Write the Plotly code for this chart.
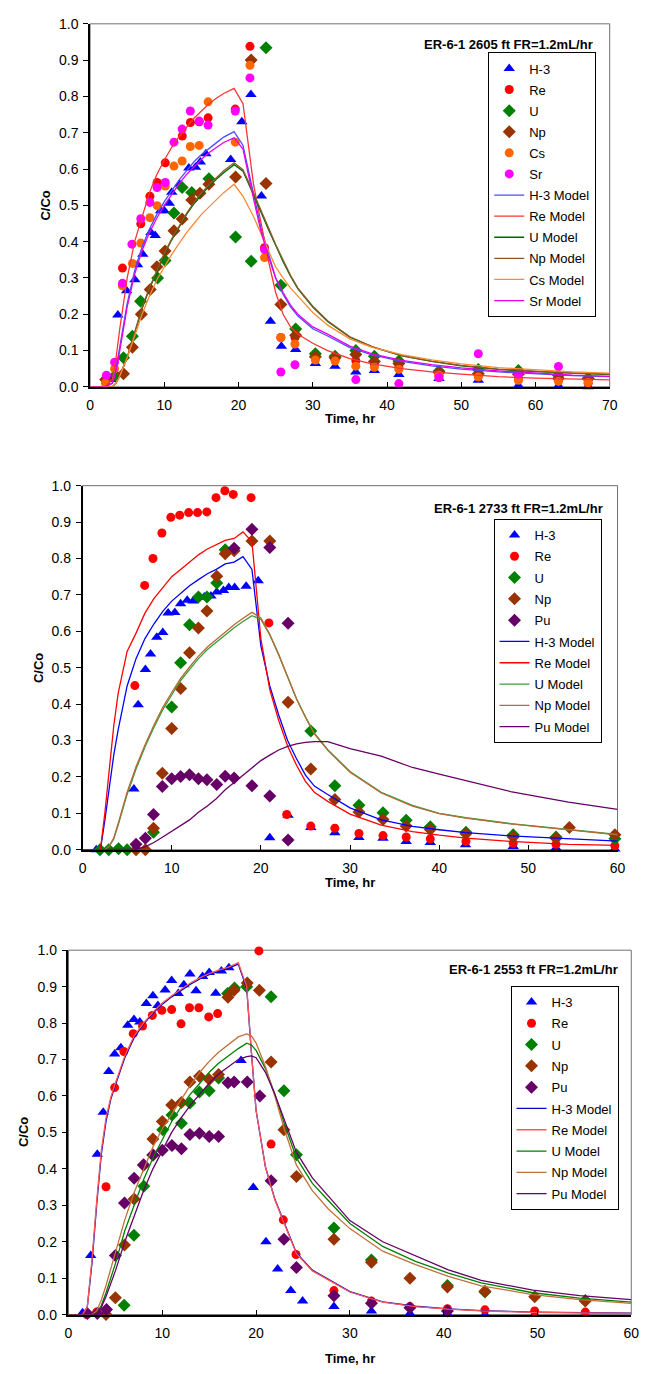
import plotly.graph_objects as go

# ---------------- Chart 1: ER-6-1 2605 ft ----------------
h3_t1 = [2.8, 3.74, 4.93, 6.04, 6.4, 7.1, 8.2, 8.77, 9.5, 10.0, 10.66, 11.0, 12.07, 13.3, 14.2, 14.85, 15.6, 18.94, 20.44, 21.67, 23.08, 24.3, 25.77, 27.7, 30.35, 33.0, 35.8, 38.3, 41.6, 47.0, 52.3, 57.7, 63.1, 67.1]
h3_v1 = [0.02, 0.198, 0.265, 0.295, 0.336, 0.365, 0.425, 0.417, 0.485, 0.485, 0.506, 0.536, 0.558, 0.603, 0.605, 0.619, 0.642, 0.626, 0.730, 0.805, 0.526, 0.181, 0.112, 0.103, 0.064, 0.057, 0.041, 0.045, 0.034, 0.023, 0.018, 0.004, 0.003, 0.0]
re_t1 = [2.07, 4.36, 6.83, 8.06, 9.03, 10.13, 12.42, 13.52, 14.7, 15.9, 19.56, 21.54, 23.5, 25.7, 27.6, 30.35, 33.0, 35.8, 38.3, 41.6, 47.0, 52.3, 57.7, 63.1, 67.1]
re_v1 = [0.02, 0.327, 0.449, 0.525, 0.563, 0.617, 0.691, 0.728, 0.73, 0.741, 0.765, 0.938, 0.383, 0.136, 0.136, 0.08, 0.075, 0.072, 0.063, 0.054, 0.03, 0.03, 0.02, 0.02, 0.01]
u_t1 = [3.4, 4.5, 5.7, 6.8, 9.1, 10.1, 11.3, 12.4, 13.7, 16.0, 19.6, 21.7, 23.7, 25.7, 27.7, 30.35, 33.0, 35.8, 38.3, 41.6, 47.0, 52.3, 57.7, 63.1, 67.1]
u_v1 = [0.032, 0.08, 0.139, 0.236, 0.30, 0.348, 0.479, 0.549, 0.535, 0.573, 0.413, 0.346, 0.934, 0.28, 0.159, 0.091, 0.084, 0.10, 0.084, 0.071, 0.043, 0.048, 0.045, 0.032, 0.023]
np_t1 = [2.1, 4.5, 5.7, 6.9, 8.1, 9.0, 10.1, 11.3, 12.4, 13.7, 14.8, 16.0, 19.6, 21.7, 23.7, 25.7, 27.7, 30.35, 33.0, 35.8, 38.3, 41.6, 47.0, 52.3, 57.7, 63.1, 67.1]
np_v1 = [0.02, 0.036, 0.109, 0.20, 0.268, 0.331, 0.374, 0.43, 0.462, 0.515, 0.533, 0.558, 0.578, 0.90, 0.56, 0.227, 0.142, 0.083, 0.08, 0.089, 0.07, 0.064, 0.04, 0.036, 0.035, 0.023, 0.023]
cs_t1 = [2.07, 3.3, 4.36, 5.7, 6.83, 8.06, 9.03, 10.13, 11.3, 12.4, 13.5, 14.7, 15.9, 19.56, 21.54, 23.5, 25.7, 27.6, 30.35, 33.0, 35.8, 38.3, 41.6, 47.0, 52.3, 57.7, 63.1, 67.1]
cs_v1 = [0.01, 0.05, 0.278, 0.34, 0.396, 0.466, 0.499, 0.553, 0.608, 0.622, 0.662, 0.665, 0.785, 0.674, 0.886, 0.356, 0.136, 0.118, 0.074, 0.071, 0.057, 0.054, 0.048, 0.032, 0.027, 0.018, 0.015, 0.012]
sr_t1 = [2.2, 3.3, 4.36, 5.64, 6.83, 8.06, 9.03, 10.13, 11.3, 12.4, 13.5, 14.7, 15.9, 19.56, 21.54, 23.5, 25.7, 27.6, 35.8, 41.6, 47.0, 52.3, 57.7, 63.1]
sr_v1 = [0.032, 0.068, 0.285, 0.393, 0.463, 0.508, 0.549, 0.563, 0.674, 0.71, 0.76, 0.732, 0.721, 0.76, 0.851, 0.378, 0.041, 0.061, 0.02, 0.009, 0.025, 0.091, 0.035, 0.056]

tm1 = [0, 2, 3, 3.5, 4, 5, 6, 7, 8, 9, 10, 11, 12, 13, 14, 15, 16, 17, 18, 19.4, 20.6, 22, 23, 24, 25, 26, 27, 28, 30, 32, 35, 38, 42, 46, 50, 55, 60, 65, 70]
h3_m1 = [0, 0, 0.01, 0.05, 0.11, 0.23, 0.32, 0.385, 0.435, 0.475, 0.51, 0.54, 0.57, 0.595, 0.62, 0.64, 0.655, 0.672, 0.688, 0.703, 0.665, 0.53, 0.44, 0.37, 0.30, 0.255, 0.22, 0.195, 0.16, 0.14, 0.108, 0.088, 0.07, 0.058, 0.049, 0.041, 0.035, 0.031, 0.028]
re_m1 = [0, 0, 0.02, 0.08, 0.16, 0.30, 0.40, 0.47, 0.535, 0.585, 0.625, 0.66, 0.69, 0.715, 0.74, 0.76, 0.78, 0.795, 0.808, 0.822, 0.78, 0.56, 0.45, 0.35, 0.26, 0.20, 0.165, 0.145, 0.12, 0.10, 0.078, 0.063, 0.05, 0.041, 0.035, 0.028, 0.024, 0.021, 0.019]
u_m1 = [0, 0, 0, 0.01, 0.03, 0.08, 0.15, 0.215, 0.27, 0.32, 0.365, 0.405, 0.44, 0.475, 0.505, 0.53, 0.552, 0.572, 0.59, 0.612, 0.594, 0.53, 0.48, 0.435, 0.39, 0.345, 0.305, 0.27, 0.22, 0.18, 0.137, 0.11, 0.085, 0.07, 0.058, 0.048, 0.042, 0.037, 0.034]
np_m1 = [0, 0, 0, 0.01, 0.032, 0.082, 0.152, 0.218, 0.273, 0.323, 0.368, 0.408, 0.443, 0.478, 0.508, 0.534, 0.556, 0.576, 0.595, 0.617, 0.598, 0.535, 0.485, 0.44, 0.392, 0.347, 0.307, 0.272, 0.222, 0.182, 0.138, 0.111, 0.086, 0.071, 0.059, 0.049, 0.043, 0.038, 0.035]
cs_m1 = [0, 0, 0, 0.01, 0.03, 0.08, 0.14, 0.20, 0.25, 0.295, 0.33, 0.365, 0.395, 0.425, 0.45, 0.475, 0.495, 0.515, 0.535, 0.558, 0.525, 0.47, 0.425, 0.375, 0.33, 0.30, 0.272, 0.25, 0.205, 0.17, 0.132, 0.109, 0.089, 0.074, 0.063, 0.053, 0.046, 0.041, 0.038]
sr_m1 = [0, 0, 0.01, 0.045, 0.10, 0.22, 0.31, 0.375, 0.425, 0.465, 0.50, 0.53, 0.56, 0.585, 0.607, 0.627, 0.645, 0.66, 0.673, 0.686, 0.655, 0.52, 0.43, 0.36, 0.30, 0.26, 0.225, 0.20, 0.165, 0.145, 0.112, 0.091, 0.073, 0.061, 0.052, 0.044, 0.037, 0.032, 0.029]

# ---------------- Chart 2: ER-6-1 2733 ft ----------------
h3_t2 = [1.54, 5.76, 6.24, 7.05, 7.63, 8.33, 9.0, 9.6, 10.35, 11.0, 11.74, 12.4, 12.95, 13.65, 14.4, 15.05, 15.8, 16.4, 17.06, 18.35, 19.7, 21.0, 23.05, 25.6, 28.3, 31.0, 33.7, 36.3, 39.0, 42.95, 48.3, 53.1, 59.7]
h3_v2 = [0.0, 0.167, 0.398, 0.495, 0.538, 0.584, 0.597, 0.65, 0.652, 0.676, 0.685, 0.683, 0.694, 0.694, 0.697, 0.708, 0.712, 0.72, 0.72, 0.724, 0.739, 0.033, 0.095, 0.061, 0.047, 0.034, 0.032, 0.023, 0.02, 0.014, 0.009, 0.005, 0.002]
re_t2 = [5.87, 6.97, 7.9, 8.9, 9.9, 10.9, 11.9, 12.9, 13.94, 14.97, 15.96, 16.9, 18.9, 20.9, 22.9, 25.6, 28.3, 31.0, 33.7, 36.3, 39.0, 43.0, 48.3, 53.1, 59.7]
re_v2 = [0.451, 0.726, 0.80, 0.87, 0.913, 0.919, 0.926, 0.926, 0.928, 0.967, 0.986, 0.976, 0.967, 0.623, 0.097, 0.065, 0.059, 0.045, 0.039, 0.035, 0.03, 0.023, 0.018, 0.015, 0.011]
u_t2 = [1.95, 2.94, 4.04, 5.0, 7.96, 10.0, 11.0, 12.0, 13.0, 13.95, 15.05, 16.0, 25.6, 28.3, 31.0, 33.7, 36.3, 39.0, 43.0, 48.3, 53.1, 59.7]
u_v2 = [0.0, 0.0, 0.003, 0.0, 0.048, 0.392, 0.514, 0.618, 0.694, 0.694, 0.733, 0.824, 0.326, 0.176, 0.122, 0.102, 0.081, 0.063, 0.048, 0.041, 0.035, 0.03]
np_t2 = [6.0, 7.05, 7.96, 8.95, 10.0, 11.0, 12.0, 13.0, 13.95, 15.05, 16.0, 17.0, 19.0, 21.0, 23.05, 25.6, 28.3, 31.0, 33.7, 36.3, 39.0, 43.0, 48.3, 53.1, 54.6, 59.7]
np_v2 = [0.0, 0.0, 0.059, 0.21, 0.333, 0.443, 0.541, 0.609, 0.656, 0.751, 0.813, 0.821, 0.848, 0.848, 0.405, 0.222, 0.138, 0.104, 0.083, 0.065, 0.056, 0.044, 0.035, 0.032, 0.061, 0.041]
pu_t2 = [6.0, 7.05, 7.96, 8.95, 10.0, 11.0, 12.0, 13.0, 13.95, 15.05, 16.0, 17.0, 17.0, 19.0, 19.0, 21.0, 21.0, 23.05, 23.05]
pu_v2 = [0.015, 0.032, 0.097, 0.174, 0.195, 0.201, 0.206, 0.195, 0.192, 0.179, 0.202, 0.197, 0.828, 0.176, 0.88, 0.148, 0.83, 0.027, 0.622]

tm2 = [0, 2, 2.5, 3, 3.5, 4, 5, 6, 7, 8, 9, 10, 11, 12, 13, 14, 15, 16, 17, 18, 19, 20, 21, 22, 23, 24, 25, 26, 27.5, 30, 33.5, 37, 40, 43, 48, 54.5, 60]
h3_m2 = [0, 0, 0.08, 0.17, 0.26, 0.33, 0.45, 0.525, 0.58, 0.62, 0.655, 0.683, 0.705, 0.725, 0.742, 0.758, 0.77, 0.785, 0.79, 0.805, 0.77, 0.56, 0.45, 0.37, 0.30, 0.25, 0.205, 0.175, 0.152, 0.115, 0.082, 0.064, 0.055, 0.047, 0.038, 0.03, 0.024]
re_m2 = [0, 0, 0.10, 0.22, 0.34, 0.43, 0.545, 0.595, 0.65, 0.69, 0.72, 0.75, 0.77, 0.79, 0.81, 0.826, 0.838, 0.85, 0.855, 0.873, 0.846, 0.58, 0.44, 0.355, 0.285, 0.232, 0.188, 0.158, 0.133, 0.098, 0.068, 0.05, 0.04, 0.032, 0.023, 0.015, 0.012]
u_m2 = [0, 0, 0, 0.01, 0.03, 0.068, 0.152, 0.222, 0.282, 0.336, 0.385, 0.425, 0.465, 0.495, 0.525, 0.55, 0.57, 0.59, 0.61, 0.627, 0.643, 0.633, 0.59, 0.535, 0.475, 0.415, 0.365, 0.32, 0.275, 0.215, 0.158, 0.122, 0.1, 0.088, 0.072, 0.056, 0.042]
np_m2 = [0, 0, 0, 0.01, 0.032, 0.072, 0.158, 0.228, 0.288, 0.342, 0.391, 0.432, 0.471, 0.502, 0.532, 0.557, 0.578, 0.598, 0.618, 0.636, 0.652, 0.637, 0.592, 0.537, 0.476, 0.414, 0.364, 0.318, 0.273, 0.213, 0.156, 0.12, 0.099, 0.087, 0.071, 0.055, 0.041]
pu_m2 = [0, 0, 0, 0, 0, 0, 0, 0.002, 0.008, 0.02, 0.035, 0.05, 0.065, 0.082, 0.103, 0.12, 0.14, 0.165, 0.185, 0.205, 0.225, 0.245, 0.26, 0.274, 0.284, 0.291, 0.295, 0.297, 0.297, 0.278, 0.257, 0.226, 0.208, 0.19, 0.16, 0.131, 0.111]

# ---------------- Chart 3: ER-6-1 2553 ft ----------------
h3_t3 = [1.5, 2.37, 3.07, 3.7, 4.29, 4.92, 5.58, 6.32, 6.98, 7.6, 8.3, 9.0, 9.53, 10.3, 11.0, 11.7, 12.3, 12.95, 13.6, 14.3, 15.0, 15.7, 16.3, 17.1, 18.4, 19.7, 21.05, 22.3, 23.7, 24.96, 28.3, 32.3, 36.4, 40.4, 44.4, 49.7, 55.1]
h3_v3 = [0.005, 0.162, 0.44, 0.555, 0.667, 0.715, 0.732, 0.794, 0.81, 0.803, 0.854, 0.875, 0.848, 0.891, 0.917, 0.881, 0.905, 0.935, 0.889, 0.928, 0.939, 0.882, 0.943, 0.952, 0.697, 0.349, 0.2, 0.125, 0.066, 0.037, 0.022, 0.01, 0.003, 0.003, 0.0, 0.0, 0.0]
re_t3 = [1.95, 3.0, 4.0, 4.92, 5.9, 6.9, 7.9, 8.94, 9.95, 11.0, 12.0, 12.9, 13.9, 14.95, 15.9, 20.3, 21.6, 22.9, 24.26, 28.3, 32.3, 36.4, 40.4, 44.4, 49.7, 55.1]
re_v3 = [0.0, 0.007, 0.351, 0.623, 0.722, 0.771, 0.792, 0.821, 0.835, 0.837, 0.798, 0.842, 0.842, 0.817, 0.826, 0.998, 0.468, 0.26, 0.165, 0.066, 0.037, 0.022, 0.016, 0.013, 0.01, 0.007]
u_t3 = [5.93, 6.98, 8.03, 9.0, 10.05, 11.03, 12.04, 12.95, 13.96, 15.0, 16.0, 16.96, 17.7, 19.0, 21.6, 22.97, 24.3, 28.3, 32.3, 40.4, 44.4, 55.1]
u_v3 = [0.026, 0.218, 0.352, 0.437, 0.507, 0.548, 0.525, 0.581, 0.611, 0.614, 0.649, 0.881, 0.896, 0.90, 0.872, 0.614, 0.439, 0.238, 0.15, 0.08, 0.062, 0.039]
np_t3 = [4.0, 5.0, 5.97, 7.0, 8.0, 9.0, 10.0, 11.0, 12.04, 12.95, 13.96, 15.0, 16.0, 17.0, 17.66, 19.06, 20.35, 21.6, 22.97, 24.3, 28.3, 32.3, 36.4, 40.4, 44.4, 49.7, 55.1]
np_v3 = [0.0, 0.046, 0.191, 0.317, 0.41, 0.482, 0.53, 0.575, 0.582, 0.638, 0.654, 0.645, 0.659, 0.871, 0.89, 0.91, 0.89, 0.693, 0.507, 0.379, 0.207, 0.144, 0.10, 0.076, 0.064, 0.049, 0.037]
pu_t3 = [2.0, 3.07, 4.05, 5.0, 5.97, 7.0, 8.0, 9.0, 10.0, 11.03, 12.04, 12.95, 13.96, 15.0, 16.0, 17.0, 17.66, 19.06, 20.4, 21.6, 22.97, 24.3, 28.3, 32.3, 36.4, 40.4]
pu_v3 = [0.003, 0.003, 0.014, 0.162, 0.306, 0.374, 0.411, 0.439, 0.451, 0.464, 0.455, 0.494, 0.498, 0.489, 0.489, 0.636, 0.638, 0.638, 0.60, 0.367, 0.207, 0.129, 0.052, 0.031, 0.019, 0.01]

tm3 = [0, 1.5, 2, 2.5, 3, 3.5, 4, 4.5, 5, 6, 7, 8, 9, 10, 11, 12, 13, 14, 15, 16, 17, 18.1, 19, 19.5, 20, 21, 22, 23, 24.3, 26, 27.7, 30, 33.5, 37, 40.5, 44, 49.5, 54.5, 60]
h3_m3 = [0, 0, 0.02, 0.14, 0.30, 0.44, 0.53, 0.59, 0.63, 0.705, 0.76, 0.797, 0.827, 0.852, 0.872, 0.89, 0.907, 0.921, 0.933, 0.942, 0.95, 0.962, 0.895, 0.72, 0.56, 0.405, 0.317, 0.252, 0.169, 0.122, 0.096, 0.063, 0.035, 0.023, 0.016, 0.011, 0.007, 0.005, 0.004]
re_m3 = [0, 0, 0.02, 0.15, 0.31, 0.45, 0.54, 0.595, 0.635, 0.71, 0.765, 0.80, 0.83, 0.855, 0.875, 0.893, 0.91, 0.924, 0.936, 0.945, 0.953, 0.966, 0.90, 0.72, 0.56, 0.405, 0.315, 0.25, 0.167, 0.12, 0.095, 0.062, 0.034, 0.022, 0.015, 0.01, 0.006, 0.004, 0.003]
u_m3 = [0, 0, 0, 0, 0.005, 0.025, 0.06, 0.10, 0.14, 0.23, 0.30, 0.37, 0.43, 0.48, 0.53, 0.57, 0.605, 0.635, 0.665, 0.69, 0.71, 0.73, 0.745, 0.74, 0.725, 0.675, 0.605, 0.525, 0.43, 0.36, 0.313, 0.25, 0.187, 0.146, 0.114, 0.087, 0.06, 0.045, 0.034]
np_m3 = [0, 0, 0, 0, 0.01, 0.04, 0.08, 0.125, 0.17, 0.26, 0.335, 0.40, 0.46, 0.51, 0.55, 0.59, 0.63, 0.665, 0.695, 0.72, 0.74, 0.762, 0.77, 0.765, 0.745, 0.68, 0.60, 0.51, 0.41, 0.34, 0.29, 0.236, 0.174, 0.137, 0.105, 0.079, 0.055, 0.041, 0.031]
pu_m3 = [0, 0, 0, 0, 0.003, 0.02, 0.05, 0.085, 0.12, 0.20, 0.27, 0.34, 0.40, 0.45, 0.50, 0.54, 0.575, 0.605, 0.635, 0.66, 0.68, 0.70, 0.708, 0.71, 0.705, 0.665, 0.605, 0.535, 0.445, 0.375, 0.326, 0.258, 0.2, 0.161, 0.123, 0.094, 0.067, 0.052, 0.041]

titles = ["ER-6-1 2605 ft FR=1.2mL/hr", "ER-6-1 2733 ft FR=1.2mL/hr", "ER-6-1 2553 ft FR=1.2mL/hr"]

W, H = 654, 1374
FONT = "Liberation Sans, Arial, sans-serif"

def px(x):
    return x / W

def py(y):
    return 1 - y / H

fig = go.Figure()

# plot area boxes in pixels: left, right, top, bottom
boxes = [(87.7, 617.0, 16.0, 383.3), (80.0, 625.0, 483.3, 851.7), (65.7, 639.0, 953.3, 1322.0)]
xmax = [70, 60, 60]
legend_pos = [(603.3, 45.0), (608.7, 517.0), (626.0, 989.5)]
title_pos = [(601.7, 37.0), (612.7, 506.0), (627.3, 973.3)]
ylab_x = [42, 35, 20]
xlab_y = [415, 885, 1366]
item_gap = [1.2, 1.4, 1.4]

sym = {"H-3": "triangle-up", "Re": "circle", "U": "diamond", "Np": "diamond", "Cs": "circle", "Sr": "circle", "Pu": "diamond"}
mcol = {"H-3": "#0000FF", "Re": "#FF0000", "U": "#008000", "Np": "#993300", "Cs": "#FF6600", "Sr": "#FF00FF", "Pu": "#660066"}
msize = {"triangle-up": 10, "circle": 9, "diamond": 10}

charts = [
    dict(data=[("H-3", h3_t1, h3_v1), ("Re", re_t1, re_v1), ("U", u_t1, u_v1), ("Np", np_t1, np_v1), ("Cs", cs_t1, cs_v1), ("Sr", sr_t1, sr_v1)],
         tm=tm1,
         models=[("H-3 Model", h3_m1, "#4D4DFF"), ("Re Model", re_m1, "#FF3333"), ("U Model", u_m1, "#006600"),
                 ("Np Model", np_m1, "#8B5A2B"), ("Cs Model", cs_m1, "#FF8833"), ("Sr Model", sr_m1, "#E600E6")]),
    dict(data=[("H-3", h3_t2, h3_v2), ("Re", re_t2, re_v2), ("U", u_t2, u_v2), ("Np", np_t2, np_v2), ("Pu", pu_t2, pu_v2)],
         tm=tm2,
         models=[("H-3 Model", h3_m2, "#0000FF"), ("Re Model", re_m2, "#FF0000"), ("U Model", u_m2, "#33A033"),
                 ("Np Model", np_m2, "#B8683A"), ("Pu Model", pu_m2, "#660066")]),
    dict(data=[("H-3", h3_t3, h3_v3), ("Re", re_t3, re_v3), ("U", u_t3, u_v3), ("Np", np_t3, np_v3), ("Pu", pu_t3, pu_v3)],
         tm=tm3,
         models=[("H-3 Model", h3_m3, "#0000CC"), ("Re Model", re_m3, "#FF5555"), ("U Model", u_m3, "#008000"),
                 ("Np Model", np_m3, "#C0703A"), ("Pu Model", pu_m3, "#660066")]),
]

annotations = []
shapes = []
for i, ch in enumerate(charts):
    n = i + 1
    xa = "x" if n == 1 else f"x{n}"
    ya = "y" if n == 1 else f"y{n}"
    lg = "legend" if n == 1 else f"legend{n}"
    k = 0
    for name, t, v in ch["data"]:
        s = sym[name]
        fig.add_trace(go.Scatter(x=t, y=v, mode="markers", name=name, xaxis=xa, yaxis=ya, legend=lg,
                                 legendgroup=f"c{n}g{k}", cliponaxis=False,
                                 marker=dict(symbol=s, size=msize[s], color=mcol[name], line=dict(width=0))))
        k += 1
    for name, v, col in ch["models"]:
        fig.add_trace(go.Scatter(x=ch["tm"], y=v, mode="lines", name=name, xaxis=xa, yaxis=ya, legend=lg,
                                 legendgroup=f"c{n}g{k}",
                                 line=dict(color=col, width=1.3)))
        k += 1

    l, r, t_, b = boxes[i]
    xkey = "xaxis" if n == 1 else f"xaxis{n}"
    ykey = "yaxis" if n == 1 else f"yaxis{n}"
    fig.update_layout({
        xkey: dict(domain=[px(l), px(r)], range=[0, xmax[i]], dtick=10, tick0=0, anchor=ya,
                   showgrid=False, zeroline=False, showline=True, linecolor="black", linewidth=1.5,
                   ticks="inside", ticklen=5, tickcolor="black", tickwidth=1,
                   tickfont=dict(family=FONT, size=14, color="black"), ticklabelstandoff=5),
        ykey: dict(domain=[py(b), py(t_)], range=[0, 1], dtick=0.1, tick0=0, anchor=xa,
                   tickformat=".1f", showgrid=False, zeroline=False, showline=True, linecolor="black", linewidth=1.5,
                   ticks="outside", ticklen=5, tickcolor="black", tickwidth=1,
                   tickfont=dict(family=FONT, size=14, color="black"), ticklabelstandoff=2),
        lg: dict(x=px(legend_pos[i][0]), y=py(legend_pos[i][1]), xanchor="right", yanchor="top",
                 bgcolor="white", bordercolor="black", borderwidth=1,
                 font=dict(family=FONT, size=13, color="black"), itemwidth=30, tracegroupgap=item_gap[i]),
    })
    shapes.append(dict(type="rect", xref="paper", yref="paper", x0=px(l), x1=px(r), y0=py(b), y1=py(t_),
                       line=dict(color="#707070", width=1), layer="below"))
    annotations.append(dict(text=f"<b>{titles[i]}</b>", xref="paper", yref="paper",
                            x=px(title_pos[i][0]), y=py(title_pos[i][1]), xanchor="right", yanchor="middle",
                            showarrow=False, font=dict(family=FONT, size=13, color="black")))
    annotations.append(dict(text="<b>C/Co</b>", xref="paper", yref="paper", textangle=-90,
                            x=px(ylab_x[i]), y=py((t_ + b) / 2), xanchor="center", yanchor="middle",
                            showarrow=False, font=dict(family=FONT, size=13, color="black")))
    annotations.append(dict(text="<b>Time, hr</b>", xref="paper", yref="paper",
                            x=px((l + r) / 2), y=py(xlab_y[i]), xanchor="center", yanchor="middle",
                            showarrow=False, font=dict(family=FONT, size=13, color="black")))

fig.update_layout(width=W, height=H, margin=dict(l=0, r=0, t=0, b=0),
                  paper_bgcolor="white", plot_bgcolor="white",
                  font=dict(family=FONT, size=13, color="black"),
                  annotations=annotations, shapes=shapes, showlegend=True)

fig.write_html("out.html")
